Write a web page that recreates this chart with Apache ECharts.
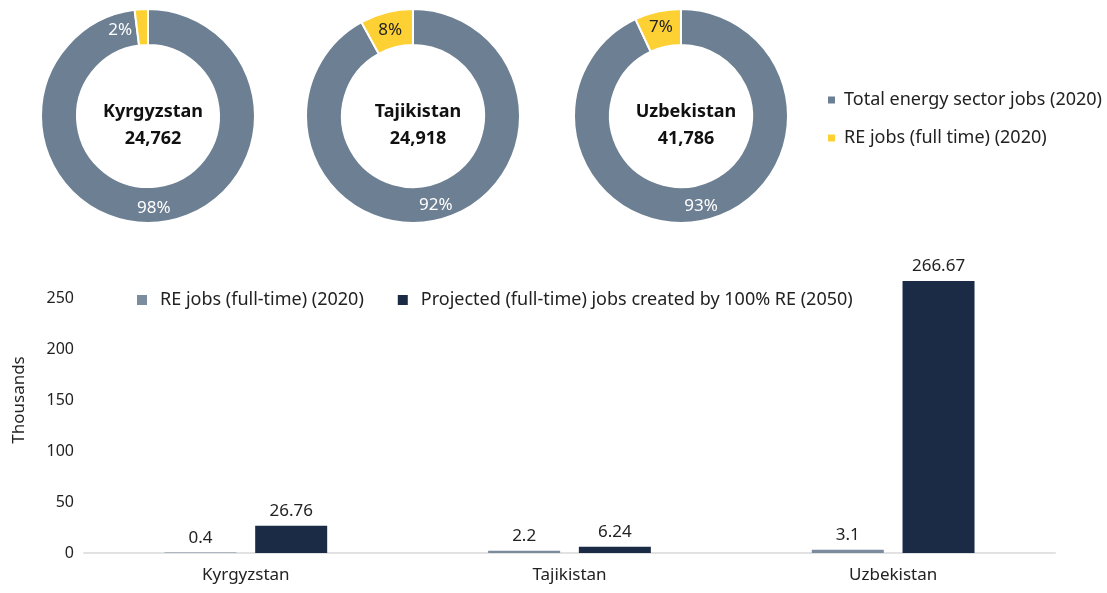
<!DOCTYPE html>
<html>
<head>
<meta charset="utf-8">
<script src="https://cdn.jsdelivr.net/npm/echarts@6/dist/echarts.min.js"></script>
<style>
  html, body { margin: 0; padding: 0; background: #fff; }
  #chart { width: 1107px; height: 593px; }
</style>
</head>
<body>
<div id="chart"></div>
<script>
// donut data (percent shares)
const countries = ['Kyrgyzstan', 'Tajikistan', 'Uzbekistan']
const totalJobsLabels = ['24,762', '24,918', '41,786']
const pieNames = ['Total energy sector jobs (2020)', 'RE jobs (full time) (2020)']
const totalShare = [98, 92, 93]
const reShare = [2, 8, 7]

// bar data (thousands)
const barNames = ['RE jobs (full-time) (2020)', 'Projected (full-time) jobs created by 100% RE (2050)']
const reJobs2020 = [0.4, 2.2, 3.1]
const projected2050 = [26.76, 6.24, 266.67]

const FONT = 'Noto Sans'
const GRAY = '#6d7f92'
const YELLOW = '#fdd133'
const NAVY = '#1b2a45'
const BARGRAY = '#7b8c9e'

const chart = echarts.init(document.getElementById('chart'))

const pieCenters = [148, 413, 681]
const smallOffsets = [[-22, 6], [0, 3], [0, 1]]
const smallColors = ['#fff', '#222', '#222']

const pieSeries = countries.map((c, i) => ({
  type: 'pie',
  center: [pieCenters[i], 116],
  radius: [71, 107],
  startAngle: 90,
  clockwise: true,
  silent: true,
  itemStyle: { borderColor: '#fff', borderWidth: 2 },
  label: {
    show: true,
    position: 'inside',
    formatter: '{c}%',
    fontFamily: FONT,
    fontSize: 17,
    color: '#fff'
  },
  labelLine: { show: false },
  data: [
    { name: pieNames[0], value: totalShare[i], itemStyle: { color: GRAY } },
    {
      name: pieNames[1], value: reShare[i], itemStyle: { color: YELLOW },
      label: { offset: smallOffsets[i], color: smallColors[i] }
    }
  ]
}))

const titles = countries.map((c, i) => ({
  text: c,
  subtext: totalJobsLabels[i],
  left: pieCenters[i],
  top: 98,
  textAlign: 'center',
  itemGap: 9,
  textStyle: { fontFamily: FONT, fontSize: 18, fontWeight: 'bold', color: '#111' },
  subtextStyle: { fontFamily: FONT, fontSize: 18, fontWeight: 'bold', color: '#111' }
}))

chart.setOption({
  backgroundColor: '#fff',
  animation: false,
  title: titles,
  legend: [{
    data: pieNames,
    orient: 'vertical',
    left: 821,
    top: 86,
    icon: 'rect',
    itemWidth: 9,
    itemHeight: 9,
    itemGap: 20,
    textStyle: { fontFamily: FONT, fontSize: 18, color: '#222', padding: [0, 0, 0, 3] }
  }, {
    data: barNames,
    left: 132,
    top: 286,
    icon: 'rect',
    itemWidth: 10,
    itemHeight: 10,
    itemGap: 34,
    textStyle: { fontFamily: FONT, fontSize: 18, color: '#222', padding: [0, 0, 0, 8] }
  }],
  grid: {
    left: 84,
    right: 52,
    top: 247,
    bottom: 40
  },
  xAxis: {
    type: 'category',
    data: countries,
    axisLine: { lineStyle: { color: '#e2e2e2', width: 2 } },
    axisTick: { show: false },
    axisLabel: { fontFamily: FONT, fontSize: 17, color: '#222', margin: 14 }
  },
  yAxis: {
    type: 'value',
    min: 0,
    max: 300,
    interval: 50,
    name: 'Thousands',
    nameLocation: 'middle',
    nameGap: 56,
    nameTextStyle: { fontFamily: FONT, fontSize: 17, color: '#222' },
    axisLine: { show: false },
    axisTick: { show: false },
    splitLine: { show: false },
    axisLabel: { fontFamily: FONT, fontSize: 16, color: '#222', margin: 10, showMaxLabel: false }
  },
  series: pieSeries.concat([{
    name: barNames[0],
    type: 'bar',
    barWidth: 72,
    barGap: '26%',
    itemStyle: { color: BARGRAY },
    label: { show: true, position: 'top', distance: 6, fontFamily: FONT, fontSize: 17, color: '#222' },
    data: reJobs2020
  }, {
    name: barNames[1],
    type: 'bar',
    barWidth: 72,
    barGap: '26%',
    itemStyle: { color: NAVY },
    label: { show: true, position: 'top', distance: 6, fontFamily: FONT, fontSize: 17, color: '#222' },
    data: projected2050
  }])
})
</script>
</body>
</html>
